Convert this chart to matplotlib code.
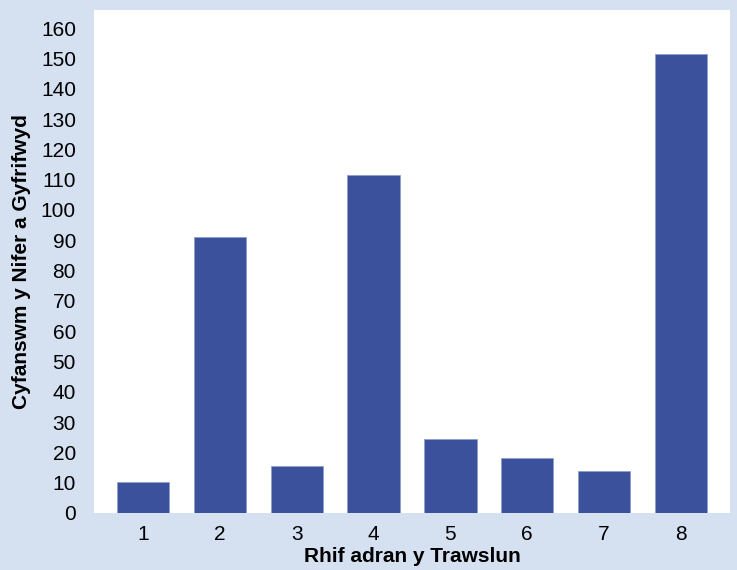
import numpy as np
import matplotlib.pyplot as plt

# data
sections = ['1', '2', '3', '4', '5', '6', '7', '8']
totals = [10.3, 91.2, 15.6, 111.7, 24.4, 18.3, 13.8, 151.6]

plt.rcParams['font.family'] = ['Liberation Sans', 'DejaVu Sans']

fig = plt.figure(figsize=(7.37, 5.70), dpi=100, facecolor='#d5e0f1')
ax = fig.add_axes([94 / 737, 1 - 513 / 570, 636 / 737, 503 / 570])
ax.set_facecolor('white')

x = np.arange(1, len(sections) + 1)
ax.bar(x, totals, width=0.68, color='#3b519c', edgecolor='#8fa0cf', linewidth=0.6)

ax.set_xlim(0.36, 8.64)
ax.set_ylim(0, 166)
ax.set_yticks(np.arange(0, 161, 10))
ax.set_xticks(x)
ax.set_xticklabels(sections)
ax.tick_params(axis='both', length=0, labelsize=15, colors='black')
ax.tick_params(axis='y', pad=13)
ax.tick_params(axis='x', pad=9)
for s in ax.spines.values():
    s.set_visible(False)

ax.set_xlabel('Rhif adran y Trawslun', fontsize=15, fontweight='bold', labelpad=2)
ax.set_ylabel('Cyfanswm y Nifer a Gyfrifwyd', fontsize=15, fontweight='bold', labelpad=7)

fig.savefig('out.png', dpi=100, facecolor=fig.get_facecolor())
